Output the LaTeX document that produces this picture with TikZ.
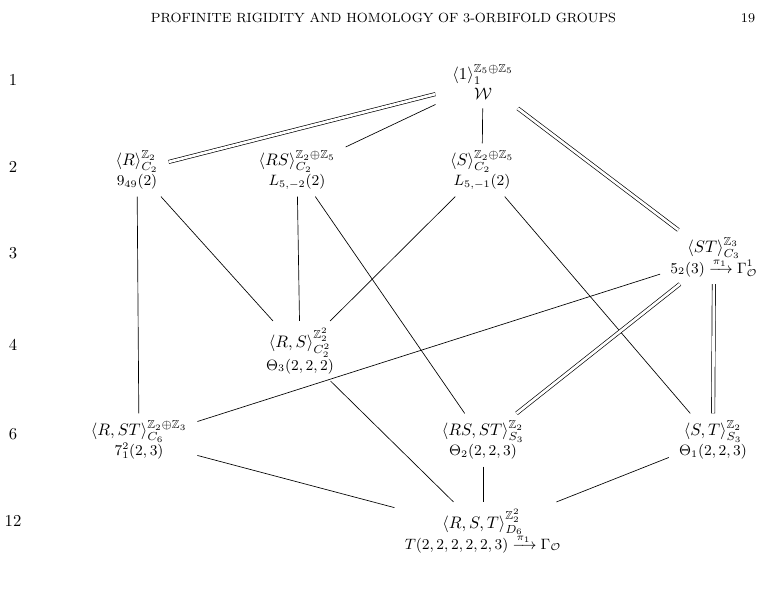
\documentclass[tikz,border=0pt]{standalone}
\usepackage{amsmath,amssymb}
\begin{document}
\begin{tikzpicture}[x=0.6pt,y=-0.6pt,
  grp/.style={align=center, inner xsep=6pt, inner ysep=4pt},
  topgrp/.style={grp, inner xsep=10pt, inner ysep=5pt},
  rowlab/.style={inner sep=0pt},
  headtext/.style={inner sep=0pt, font=\fontsize{8}{9.6}\selectfont},
  sgl/.style={line width=0.4pt},
  dbl/.style={double, double distance=1.6pt, line width=0.4pt}]
\useasboundingbox (0,0) rectangle (763,594);
\node[headtext] (head) at (383.5,18) {PROFINITE RIGIDITY AND HOMOLOGY OF 3-ORBIFOLD GROUPS};
\node[headtext] (page) at (748,18) {19};
% row labels
\node[rowlab] (l1) at (13,80) {1};
\node[rowlab] (l2) at (13,167) {2};
\node[rowlab] (l3) at (13,253) {3};
\node[rowlab] (l4) at (13,345) {4};
\node[rowlab] (l6) at (13,434) {6};
\node[rowlab] (l12) at (13,521) {12};
% groups
\node[topgrp] (n1) at (483,82) {$\langle 1\rangle^{\mathbb{Z}_5\oplus\mathbb{Z}_5}_{1}$\\$\mathcal{W}$};
\node[grp] (nR) at (137,170) {$\langle R\rangle^{\mathbb{Z}_2}_{C_2}$\\\small$9_{49}(2)$};
\node[grp] (nRS) at (297,170) {$\langle RS\rangle^{\mathbb{Z}_2\oplus\mathbb{Z}_5}_{C_2}$\\\small$L_{5,-2}(2)$};
\node[grp] (nS) at (482,170) {$\langle S\rangle^{\mathbb{Z}_2\oplus\mathbb{Z}_5}_{C_2}$\\\small$L_{5,-1}(2)$};
\node[grp] (nST) at (714,257) {$\langle ST\rangle^{\mathbb{Z}_3}_{C_3}$\\[-1.5pt]\small$5_2(3)\xrightarrow{\pi_1}\Gamma^1_{\mathcal{O}}$};
\node[grp] (nRcS) at (300,351) {$\langle R,S\rangle^{\mathbb{Z}_2^2}_{C_2^2}$\\\small$\Theta_3(2,2,2)$};
\node[grp] (nRcST) at (139,440) {$\langle R,ST\rangle^{\mathbb{Z}_2\oplus\mathbb{Z}_3}_{C_6}$\\\small$7_1^2(2,3)$};
\node[grp] (nRScST) at (483,440) {$\langle RS,ST\rangle^{\mathbb{Z}_2}_{S_3}$\\\small$\Theta_2(2,2,3)$};
\node[grp] (nScT) at (713,440) {$\langle S,T\rangle^{\mathbb{Z}_2}_{S_3}$\\\small$\Theta_1(2,2,3)$};
\node[grp] (nAll) at (483,531) {$\langle R,S,T\rangle^{\mathbb{Z}_2^2}_{D_6}$\\[-1.5pt]\small$T(2,2,2,2,2,3)\xrightarrow{\pi_1}\Gamma_{\mathcal{O}}$};
% connectors
\draw[dbl] (n1) -- (nR);
\draw[sgl] (n1) -- (nRS);
\draw[sgl] (n1) -- (nS);
\draw[dbl] (n1) -- (nST);
\draw[sgl] (nR) -- (nRcS);
\draw[sgl] (nR) -- (nRcST);
\draw[sgl] (nRS) -- (nRcS);
\draw[sgl] (nRS) -- (nRScST);
\draw[sgl] (nS) -- (nRcS);
\draw[sgl] (nS) -- (nScT);
\draw[sgl] (nST) -- (nRcST);
\draw[dbl] (nST) -- (nRScST);
\draw[dbl] (nST) -- (nScT);
\draw[sgl] (nRcS) -- (nAll);
\draw[sgl] (nRcST) -- (nAll);
\draw[sgl] (nRScST) -- (nAll);
\draw[sgl] (nScT) -- (nAll);
\end{tikzpicture}
\end{document}
